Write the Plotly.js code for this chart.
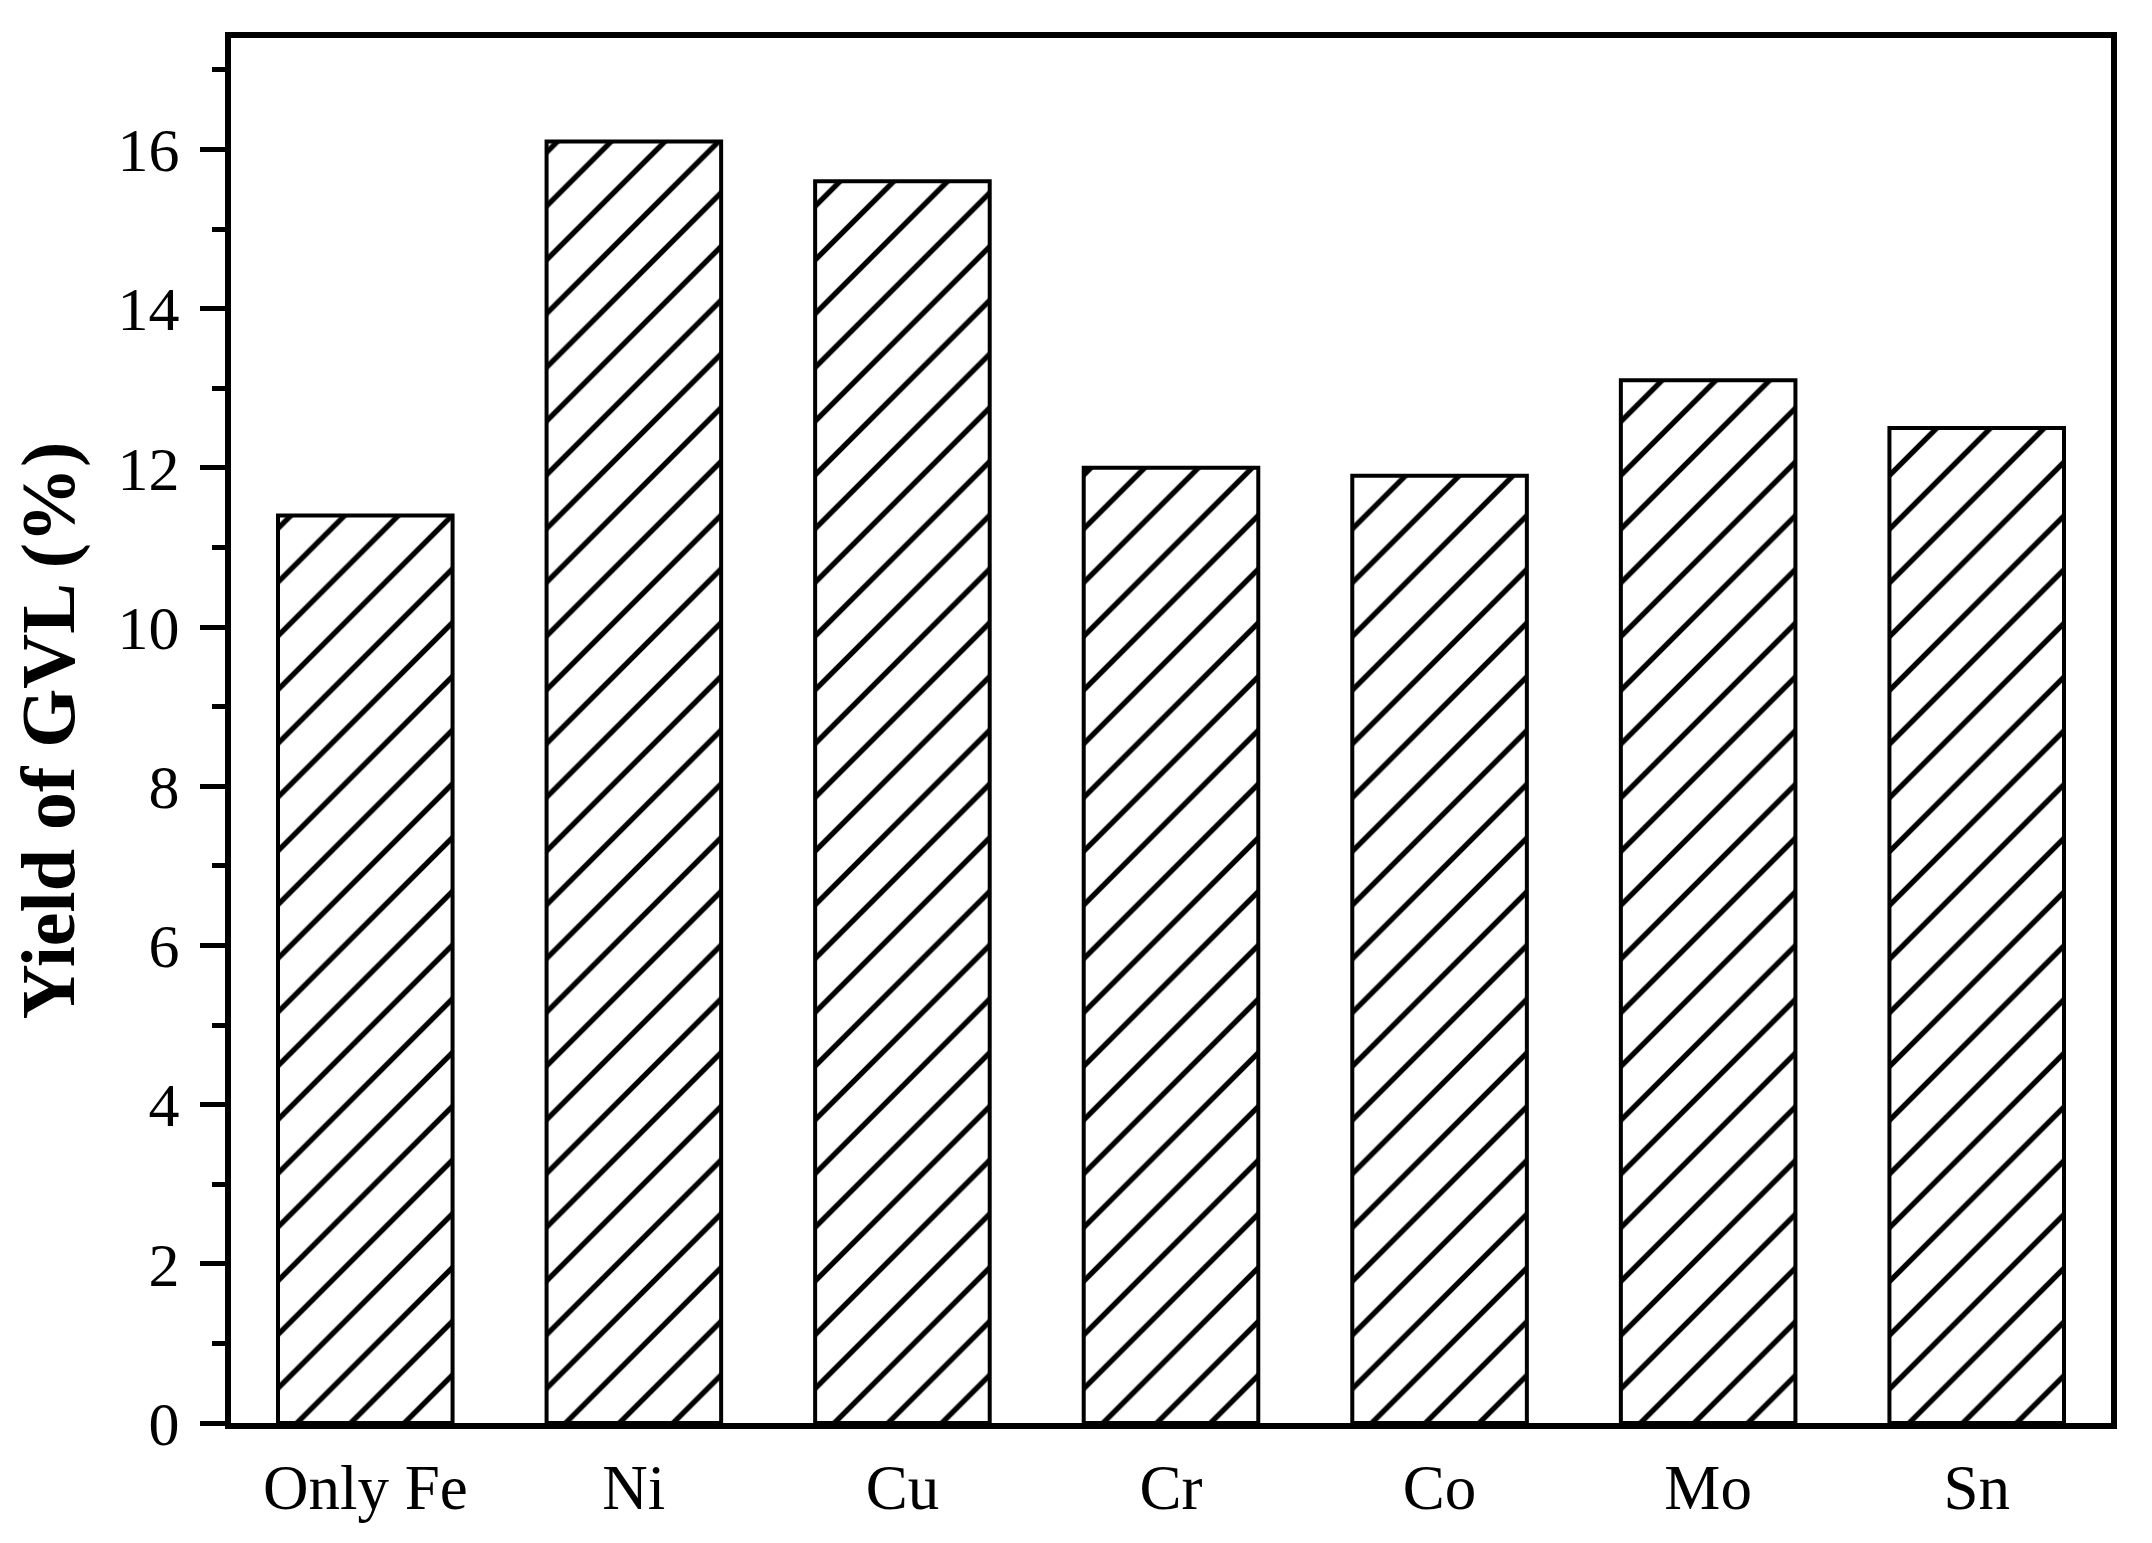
<!DOCTYPE html>
<html>
<head>
<meta charset="utf-8">
<script src="https://cdn.plot.ly/plotly-3.0.1.min.js"></script>
<style>
  html, body { margin: 0; padding: 0; background: #fff; }
  #chart { width: 2152px; height: 1543px; }
</style>
</head>
<body>
<div id="chart"></div>
<script>
const catalysts = ["Only Fe", "Ni", "Cu", "Cr", "Co", "Mo", "Sn"];
const gvlYield = [11.4, 16.1, 15.6, 12.0, 11.9, 13.1, 12.5];
const yTicks = [0, 2, 4, 6, 8, 10, 12, 14, 16];

const serif = "Liberation Serif, Times New Roman, serif";

const bars = {
  type: "bar",
  x: catalysts,
  y: gvlYield,
  width: 0.65,
  marker: {
    color: "#ffffff",
    line: { color: "#000000", width: 4 },
    pattern: { shape: "/", size: 38, solidity: 0.14, fgcolor: "#000000", bgcolor: "#ffffff", fillmode: "replace" }
  },
  hoverinfo: "x+y"
};

const layout = {
  width: 2152,
  height: 1543,
  margin: { l: 231, r: 41, t: 38, b: 120 },
  paper_bgcolor: "#fff",
  plot_bgcolor: "#fff",
  showlegend: false,
  font: { family: serif, color: "#000" },
  xaxis: {
    type: "category",
    range: [-0.5, 6.5],
    showline: true,
    linecolor: "#000",
    linewidth: 6,
    mirror: true,
    ticks: "",
    showgrid: false,
    zeroline: false,
    tickfont: { family: serif, size: 63, color: "#000" },
    ticklabelstandoff: 4
  },
  yaxis: {
    range: [0, 17.4],
    tickvals: yTicks,
    showline: true,
    linecolor: "#000",
    linewidth: 6,
    mirror: true,
    ticks: "outside",
    ticklen: 25,
    tickwidth: 5,
    tickcolor: "#000",
    minor: { ticks: "outside", ticklen: 13, tickwidth: 5, tickcolor: "#000", dtick: 1, showgrid: false },
    showgrid: false,
    zeroline: false,
    tickfont: { family: serif, size: 62, color: "#000" },
    ticklabelstandoff: 8,
    title: { text: "<b>Yield of GVL (%)</b>", font: { family: serif, size: 76, color: "#000" }, standoff: 20 }
  }
};

Plotly.newPlot("chart", [bars], layout, { displayModeBar: false, responsive: false });
</script>
</body>
</html>
